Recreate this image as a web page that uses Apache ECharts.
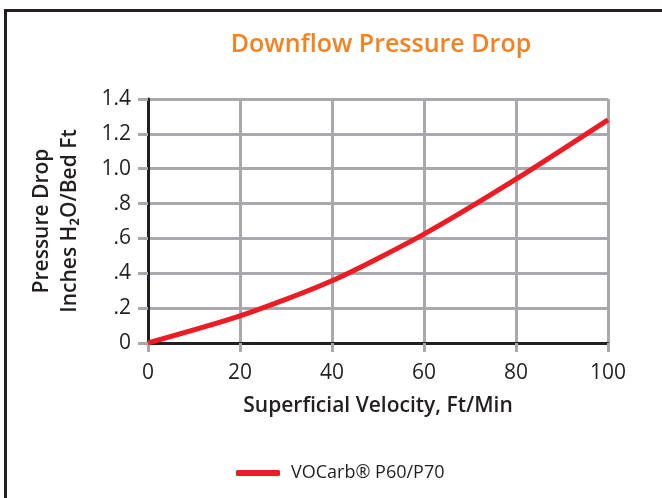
<!DOCTYPE html>
<html>
<head>
<meta charset="utf-8">
<script src="https://cdn.jsdelivr.net/npm/echarts@6/dist/echarts.min.js"></script>
<style>
  html, body { margin: 0; padding: 0; background: #fff; }
  #chart { width: 662px; height: 498px; }
</style>
</head>
<body>
<div id="chart"></div>
<script>
// 流速 (Ft/Min) 與壓降 (Inches H2O/Bed Ft)
const velocity = [0, 20, 40, 60, 80, 100];
const pressureDrop = [0, 0.155, 0.357, 0.625, 0.94, 1.28];
const seriesName = 'VOCarb® P60/P70';

const chart = echarts.init(document.getElementById('chart'));
const font = '"Open Sans", "Noto Sans", sans-serif';
const gray = '#A7A9AC';
const dark = '#231F20';

const option = {
  animation: false,
  textStyle: { fontFamily: font },
  title: {
    text: 'Downflow Pressure Drop',
    left: 376,
    top: 27,
    textAlign: 'center',
    textStyle: { color: '#F58220', fontSize: 25, fontWeight: 600, fontFamily: font }
  },
  graphic: [{ // 外框
    type: 'rect',
    shape: { x: 5.5, y: 10.5, width: 700, height: 520 },
    style: { fill: 'none', stroke: dark, lineWidth: 3 },
    silent: true
  }],
  legend: {
    left: 231,
    top: 459,
    icon: 'roundRect',
    itemWidth: 44,
    itemHeight: 6,
    data: [seriesName],
    textStyle: { color: dark, fontSize: 18, fontFamily: font, padding: [0, 0, 0, 6] }
  },
  grid: { left: 148, right: 54, top: 99, bottom: 155 },
  xAxis: {
    type: 'value',
    min: 0,
    max: 100,
    interval: 20,
    name: 'Superficial Velocity, Ft/Min',
    nameLocation: 'middle',
    nameGap: 53,
    nameTextStyle: { color: dark, fontSize: 21, fontWeight: 600, fontFamily: font },
    axisLine: { show: true, lineStyle: { color: dark, width: 3 } },
    axisTick: { show: true, length: 9, lineStyle: { color: gray, width: 3 } },
    axisLabel: { color: dark, fontSize: 21, margin: 20, fontFamily: font },
    splitLine: { show: true, lineStyle: { color: gray, width: 3 } }
  },
  yAxis: {
    type: 'value',
    min: 0,
    max: 1.4,
    interval: 0.2,
    name: 'Pressure Drop\nInches H₂O/Bed Ft',
    nameLocation: 'middle',
    nameGap: 64,
    nameTextStyle: { color: dark, fontSize: 21, fontWeight: 600, lineHeight: 28, fontFamily: font },
    axisLine: { show: true, lineStyle: { color: dark, width: 3 } },
    axisTick: { show: true, length: 10, lineStyle: { color: gray, width: 3 } },
    axisLabel: {
      color: dark,
      fontSize: 21,
      margin: 17,
      fontFamily: font,
      formatter: function (v) {
        if (v === 0) return '0';
        const s = v.toFixed(1);
        return v < 1 ? s.replace(/^0/, '') : s;
      }
    },
    splitLine: { show: true, lineStyle: { color: gray, width: 3 } }
  },
  series: [{
    name: seriesName,
    type: 'line',
    smooth: 0.25,
    showSymbol: false,
    data: velocity.map((v, i) => [v, pressureDrop[i]]),
    lineStyle: { color: '#ED1C24', width: 5 },
    itemStyle: { color: '#ED1C24' }
  }]
};
chart.setOption(option);
</script>
</body>
</html>
